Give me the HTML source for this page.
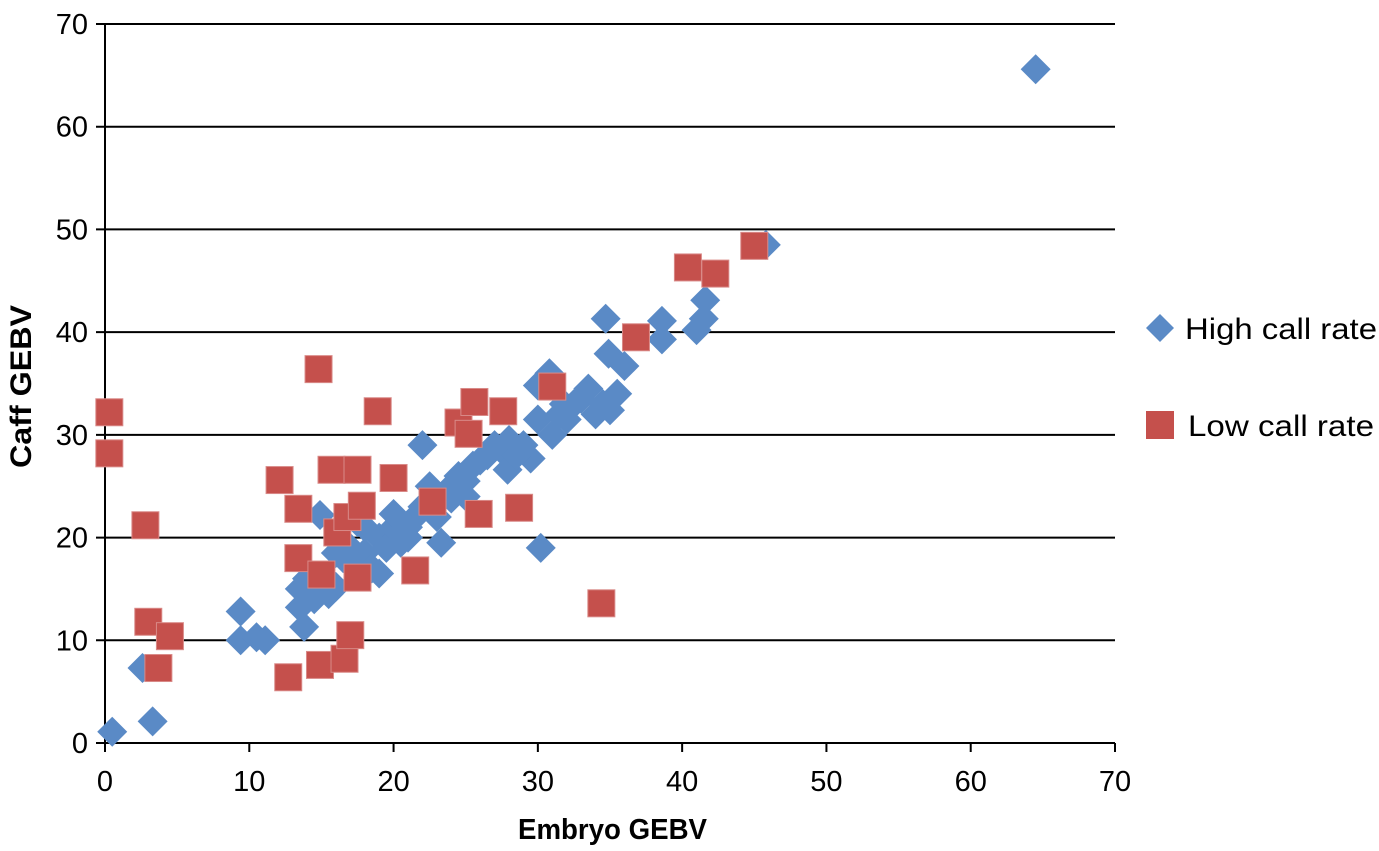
<!DOCTYPE html>
<html><head><meta charset="utf-8"><style>
body{margin:0;background:#fff}
svg text{font-family:"Liberation Sans",sans-serif}
</style></head><body>
<svg id="c" width="1379" height="846"></svg>
<script>
const xTicks=[0,10,20,30,40,50,60,70];
const yTicks=[0,10,20,30,40,50,60,70];
const highX=[0.5,2.6,3.3,9.4,9.4,10.5,11.1,13.8,13.5,13.5,14,14.5,15,15.5,16,14.9,16.5,17,17.5,18,18.5,19,19,19.5,20,20,20.5,21,21.5,22,22,22.5,23,23.3,23.5,24,24.5,25,25.5,26,26.5,27,27.5,27.9,28,29.5,30.2,30,30,30.8,31,31.5,32,32.5,33,33.5,34,34.5,34.7,35,34.9,35.5,36,38.6,38.6,41,41.5,41.6,45.8,64.5,17.5,16,18,21,24,25,28.5,29,31.8];
const highY=[1.1,7.3,2.1,12.8,10.0,10.3,10.0,11.3,13.2,15,16,14,15.5,14.5,15.2,22.2,18,19,17.5,18.5,17,16.5,20,19,21,22.3,19.5,21,22,23,29,25,22,19.5,24,25,26,24,27,27.5,28,29,28.5,26.6,29.5,27.7,19,31.5,34.8,36,30,32,31.5,33,33.5,34.5,32,33,41.3,32.4,37.9,34,36.7,41.1,39.3,40.2,41.3,43.1,48.5,65.6,21.5,18.5,21,20,23.8,25.5,28,29,33];
const lowX=[0.3,0.3,2.8,3.0,3.7,4.5,12.1,12.7,13.4,13.4,14.8,14.9,15.0,15.7,16.1,16.6,16.8,17.0,17.5,17.5,17.8,18.9,20.0,21.5,22.7,24.5,25.2,25.6,25.9,27.6,28.7,31.0,34.4,36.8,40.4,42.3,45.0];
const lowY=[32.2,28.2,21.2,11.8,7.3,10.4,25.6,6.4,22.8,18.0,36.4,7.6,16.4,26.6,20.5,8.2,22.0,10.5,26.6,16.1,23.1,32.3,25.8,16.8,23.5,31.2,30.1,33.2,22.3,32.3,22.9,34.7,13.6,39.5,46.3,45.7,48.4];
const X0=105,X1=1115,Y0=743,Y1=24;
const sx=v=>X0+(X1-X0)*v/70, sy=v=>Y0-(Y0-Y1)*v/70;
const svg=document.getElementById('c'),NS='http://www.w3.org/2000/svg';
function mk(t,a,p){const e=document.createElementNS(NS,t);for(const k in a)e.setAttribute(k,a[k]);(p||svg).appendChild(e);return e;}
yTicks.forEach(v=>{
 const l=mk('line',{x1:96,x2:X1,y1:sy(v),y2:sy(v),stroke:'#000','stroke-width':2});
 
 
 const t=mk('text',{x:88,y:sy(v)+10,'text-anchor':'end','font-size':29});
 t.textContent=v;
 
 
});
xTicks.forEach(v=>{
 const l=mk('line',{x1:sx(v),x2:sx(v),y1:Y0,y2:752,stroke:'#000','stroke-width':2});
 
 
 const t=mk('text',{x:sx(v),y:791,'text-anchor':'middle','font-size':29});
 t.textContent=v;
 
 
});
const ya=mk('line',{x1:X0,x2:X0,y1:Y1,y2:752,stroke:'#000','stroke-width':2});


function diamond(cx,cy,s){return `${cx},${cy-s} ${cx+s},${cy} ${cx},${cy+s} ${cx-s},${cy}`;}
highX.forEach((v,i)=>{
 const d=mk('polygon',{points:diamond(sx(v),sy(highY[i]),15),fill:'#5a8ac6'});
 
 
});
lowX.forEach((v,i)=>{
 const r=mk('rect',{x:sx(v)-13.5,y:sy(lowY[i])-13.5,width:27,height:27,fill:'#c5504c',stroke:'#d98a88','stroke-width':1});
 
 
});
const xt=mk('text',{x:518,y:839,'font-size':29,'font-weight':'bold',textLength:189,lengthAdjust:'spacingAndGlyphs'});
xt.textContent='Embryo GEBV';


const yt=mk('text',{x:0,y:0,'font-size':30,'font-weight':'bold',textLength:163,lengthAdjust:'spacingAndGlyphs',transform:'translate(31,468) rotate(-90)'});
yt.textContent='Caff GEBV';


const g1=mk('g',{});


mk('polygon',{points:diamond(1160,328,14),fill:'#5a8ac6'},g1);
const l1=mk('text',{x:1185,y:339,'font-size':30,textLength:192,lengthAdjust:'spacingAndGlyphs'},g1);l1.textContent='High call rate';
const g2=mk('g',{});


mk('rect',{x:1146,y:411,width:28,height:28,fill:'#c5504c'},g2);
const l2=mk('text',{x:1188,y:436,'font-size':30,textLength:186,lengthAdjust:'spacingAndGlyphs'},g2);l2.textContent='Low call rate';
</script>
</body></html>
